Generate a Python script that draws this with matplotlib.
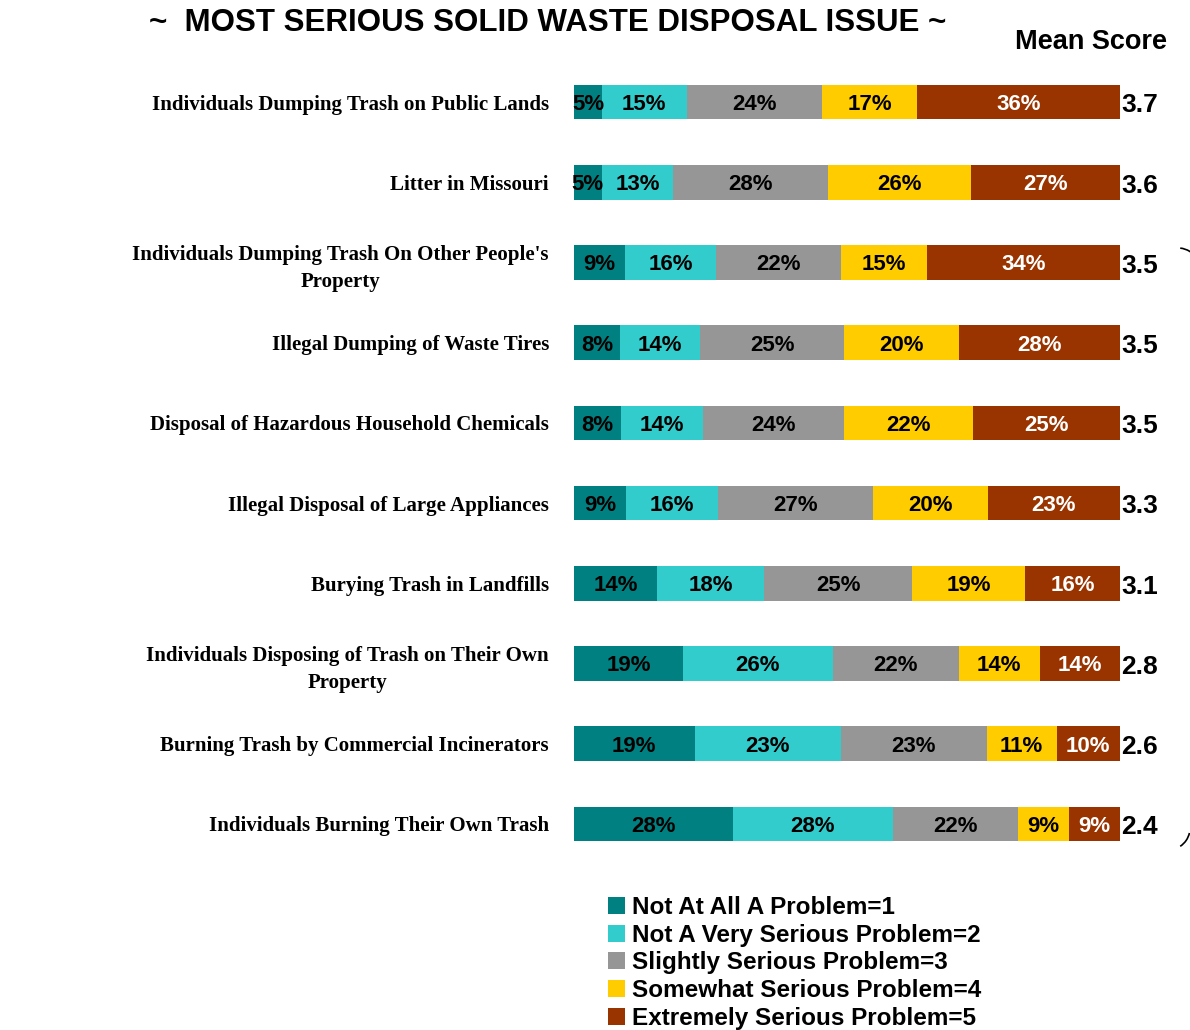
import numpy as np
import matplotlib.pyplot as plt
from matplotlib.patches import Arc

# survey rows, top to bottom
issues = [
    "Individuals Dumping Trash on Public Lands",
    "Litter in Missouri",
    "Individuals Dumping Trash On Other People's\nProperty",
    "Illegal Dumping of Waste Tires",
    "Disposal of Hazardous Household Chemicals",
    "Illegal Disposal of Large Appliances",
    "Burying Trash in Landfills",
    "Individuals Disposing of Trash on Their Own\nProperty",
    "Burning Trash by Commercial Incinerators",
    "Individuals Burning Their Own Trash",
]
not_at_all = [5, 5, 9, 8, 8, 9, 14, 19, 19, 28]
not_very = [15, 13, 16, 14, 14, 16, 18, 26, 23, 28]
slightly = [24, 28, 22, 25, 24, 27, 25, 22, 23, 22]
somewhat = [17, 26, 15, 20, 22, 20, 19, 14, 11, 9]
extremely = [36, 27, 34, 28, 25, 23, 16, 14, 10, 9]
mean_score = [3.7, 3.6, 3.5, 3.5, 3.5, 3.3, 3.1, 2.8, 2.6, 2.4]

series_names = [
    "Not At All A Problem=1",
    "Not A Very Serious Problem=2",
    "Slightly Serious Problem=3",
    "Somewhat Serious Problem=4",
    "Extremely Serious Problem=5",
]
colors = ["#008080", "#33CCCC", "#969696", "#FFCC00", "#993300"]
text_colors = ["black", "black", "black", "black", "white"]

W, H = 1190, 1030
fig = plt.figure(figsize=(W / 100, H / 100), dpi=100)
ax = fig.add_axes([574 / W, 1 - 864 / H, 546 / W, 802 / H])

values = np.array([not_at_all, not_very, slightly, somewhat, extremely], dtype=float)
# bars in the original all run full width: scale each row to 100
shares = values / values.sum(axis=0) * 100
y = np.arange(len(issues))

left = np.zeros(len(issues))
handles = []
for k in range(len(series_names)):
    bars = ax.barh(y, shares[k], left=left, height=0.43, color=colors[k],
                   label=series_names[k])
    handles.append(bars)
    for i in range(len(issues)):
        ax.text(left[i] + shares[k][i] / 2, y[i] + 0.03, f"{int(values[k][i])}%",
                ha="center", va="center", fontsize=16, fontweight="bold",
                color=text_colors[k], family="Liberation Sans")
    left += shares[k]

for i in range(len(issues)):
    ax.text(100.2, y[i] + 0.04, f"{mean_score[i]:.1f}", ha="left", va="center",
            fontsize=19, fontweight="bold", family="Liberation Sans")

ax.set_xlim(0, 100)
ax.set_ylim(len(issues) - 0.5, -0.5)
ax.set_yticks(y)
ax.set_yticklabels(issues, fontsize=15, fontweight="bold",
                   family="Liberation Serif", multialignment="center",
                   linespacing=1.45)
ax.tick_params(axis="y", length=0, pad=18)
ax.set_xticks([])
for s in ax.spines.values():
    s.set_visible(False)

fig.text(548 / W, 1 - 23 / H, "~  MOST SERIOUS SOLID WASTE DISPOSAL ISSUE ~",
         ha="center", va="center", fontsize=22.5, fontweight="bold",
         family="Liberation Sans")
fig.text(1091 / W, 1 - 42 / H, "Mean Score", ha="center", va="center",
         fontsize=19.5, fontweight="bold", family="Liberation Sans")

fig.legend(handles=handles, labels=series_names, loc="upper left",
           bbox_to_anchor=(598 / W, 1 - 886 / H), frameon=False,
           prop={"family": "Liberation Sans", "weight": "bold", "size": 17.5},
           handlelength=0.7, handleheight=0.7, handletextpad=0.3,
           labelspacing=0.2, borderaxespad=0)

# bits of a large bracket at the right edge
fig.add_artist(Arc((1178 / W, 1 - 270 / H), 44 / W, 44 / H, theta1=35, theta2=85,
                   transform=fig.transFigure, lw=1.2, color="black"))
fig.add_artist(Arc((1168 / W, 1 - 828 / H), 44 / W, 44 / H, theta1=-60, theta2=-15,
                   transform=fig.transFigure, lw=1.2, color="black"))

fig.savefig("out.png", dpi=100)
